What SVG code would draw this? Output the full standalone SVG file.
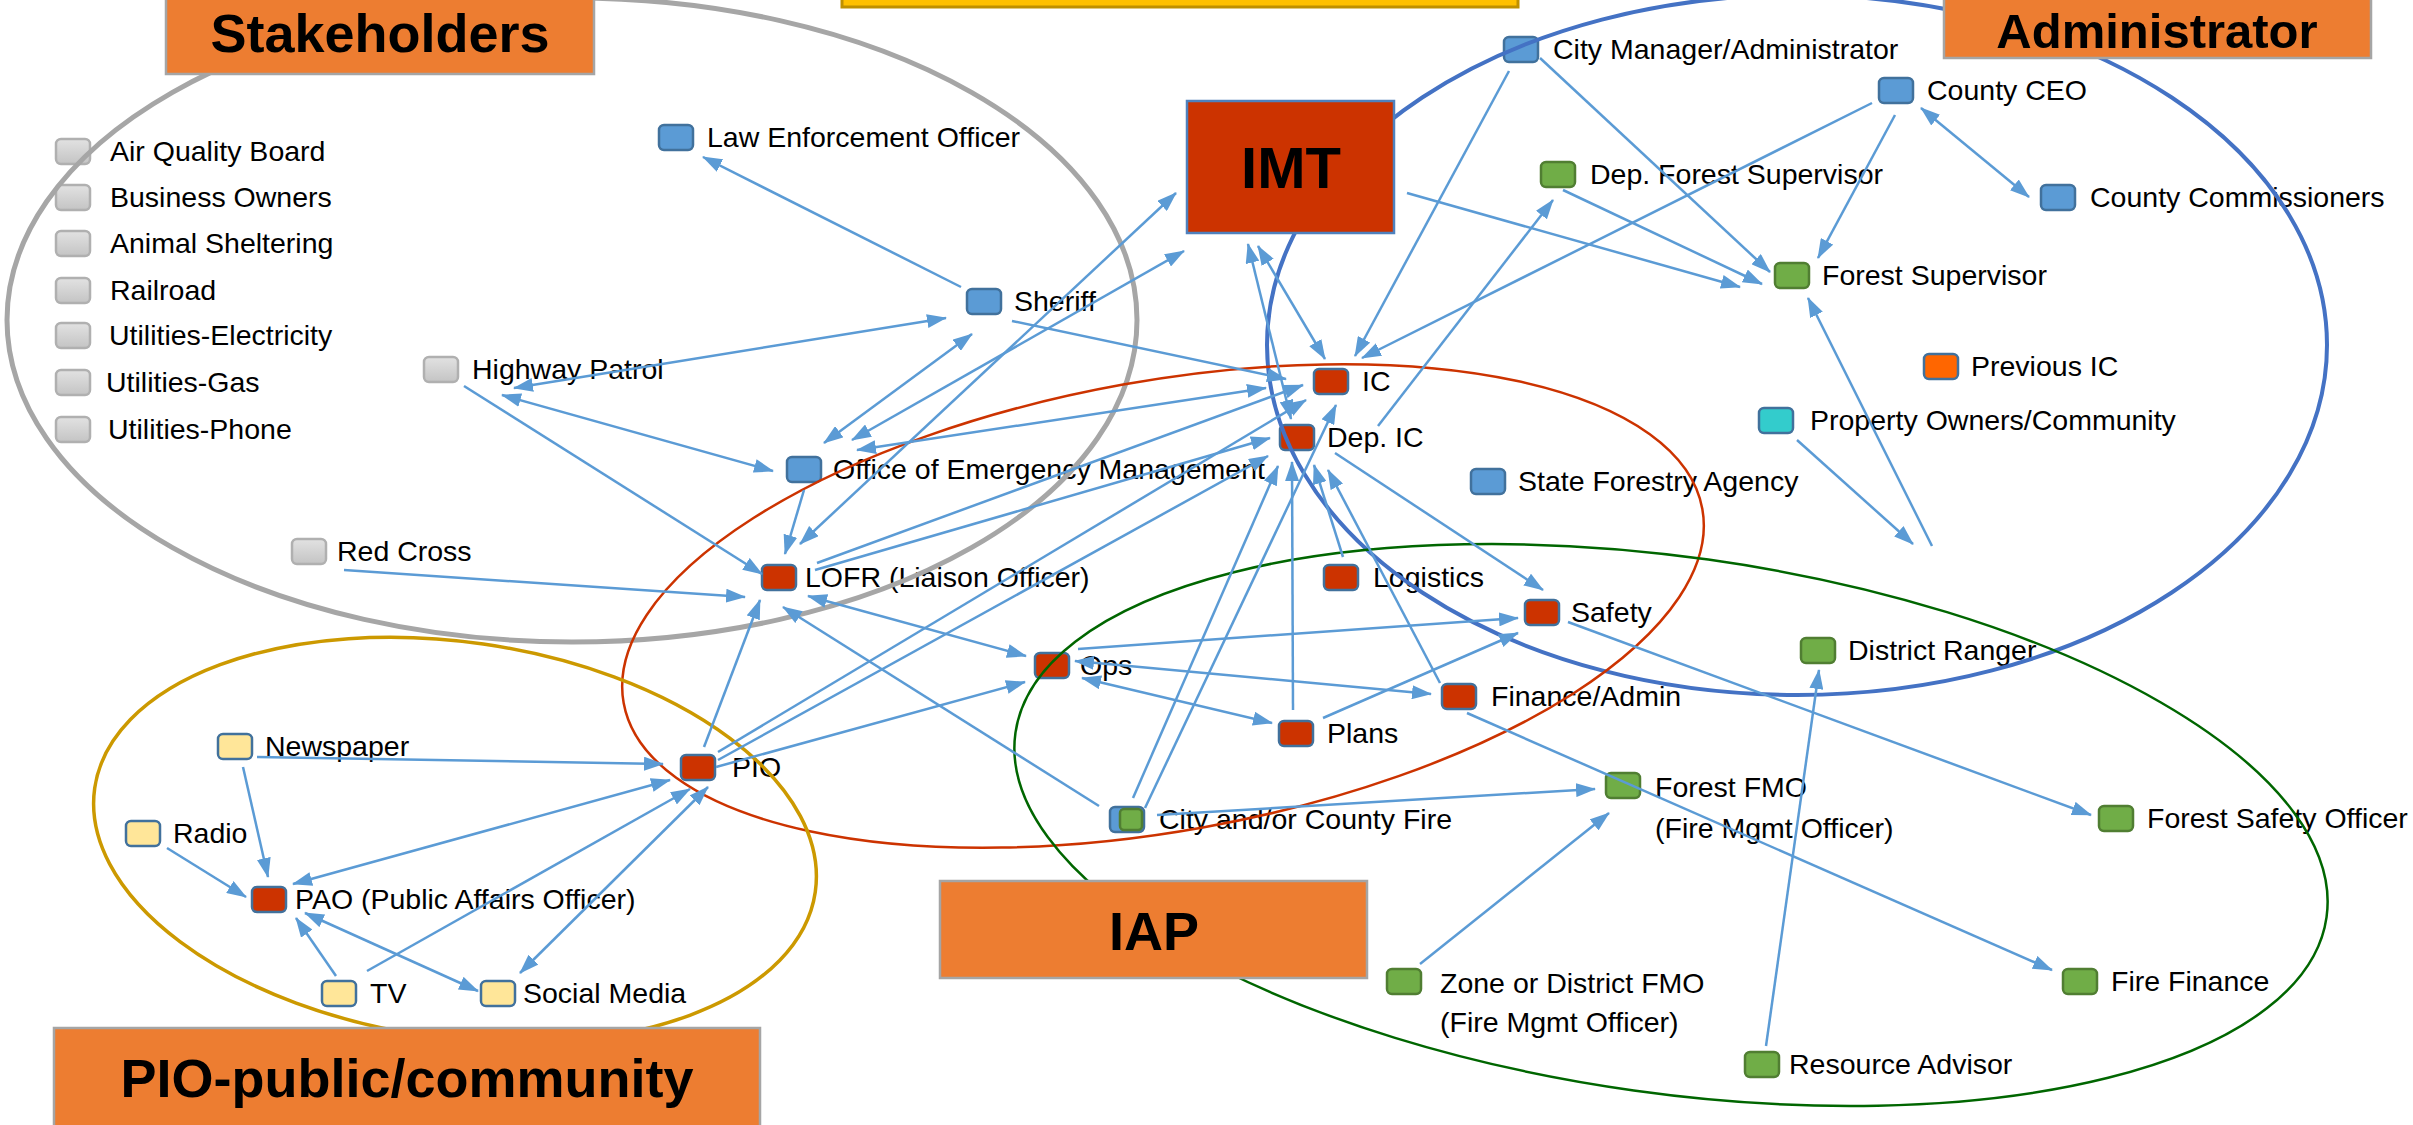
<svg xmlns="http://www.w3.org/2000/svg" width="2413" height="1125" viewBox="0 0 2413 1125">
<defs>
<linearGradient id="gg" x1="0" y1="0" x2="0" y2="1"><stop offset="0" stop-color="#E2E2E2"/><stop offset="1" stop-color="#C4C4C4"/></linearGradient>
<marker id="ah" viewBox="0 0 20 14" refX="19" refY="7" markerWidth="20" markerHeight="14" markerUnits="userSpaceOnUse" orient="auto-start-reverse"><path d="M0,0 L20,7 L0,14 z" fill="#5B9BD5"/></marker>
</defs>
<style>
text{font-family:"Liberation Sans",Arial,sans-serif;fill:#000}
.t{font-size:28.5px}
.big{font-size:54px;font-weight:bold;text-anchor:middle}
.n rect{stroke-width:2.5}
.gr{fill:url(#gg);stroke:#B0B0B0}
.bl{fill:#5B9BD5;stroke:#41719C}
.rd{fill:#CC3300;stroke:#41719C}
.yl{fill:#FFE699;stroke:#41719C}
.gn{fill:#70AD47;stroke:#507E32}
.og{fill:#FF6600;stroke:#41719C}
.tl{fill:#33CCCC;stroke:#41719C}
.lab{fill:#ED7D31;stroke:#A5A5A5;stroke-width:2.5}
.el{fill:none}
.c line{stroke:#5B9BD5;stroke-width:2.5;fill:none}
.e{marker-end:url(#ah)}
.b{marker-start:url(#ah);marker-end:url(#ah)}
</style>
<rect x="0" y="0" width="2413" height="1125" fill="#fff"/>
<rect x="842" y="-20" width="676" height="27" fill="#FFC000" stroke="#BF9000" stroke-width="3"/>

<g id="nodes">
<g id="air-quality" class="n"><rect class="gr" x="56" y="139" width="34" height="25" rx="5"/><text class="t" x="110" y="161">Air Quality Board</text></g>
<g id="business-owners" class="n"><rect class="gr" x="56" y="185" width="34" height="25" rx="5"/><text class="t" x="110" y="207">Business Owners</text></g>
<g id="animal-sheltering" class="n"><rect class="gr" x="56" y="231" width="34" height="25" rx="5"/><text class="t" x="110" y="253">Animal Sheltering</text></g>
<g id="railroad" class="n"><rect class="gr" x="56" y="278" width="34" height="25" rx="5"/><text class="t" x="110" y="300">Railroad</text></g>
<g id="utilities-electricity" class="n"><rect class="gr" x="56" y="323" width="34" height="25" rx="5"/><text class="t" x="109" y="345">Utilities-Electricity</text></g>
<g id="utilities-gas" class="n"><rect class="gr" x="56" y="370" width="34" height="25" rx="5"/><text class="t" x="106" y="392">Utilities-Gas</text></g>
<g id="utilities-phone" class="n"><rect class="gr" x="56" y="417" width="34" height="25" rx="5"/><text class="t" x="108" y="439">Utilities-Phone</text></g>
<g id="highway-patrol" class="n"><rect class="gr" x="424" y="357" width="34" height="25" rx="5"/><text class="t" x="472" y="379">Highway Patrol</text></g>
<g id="red-cross" class="n"><rect class="gr" x="292" y="539" width="34" height="25" rx="5"/><text class="t" x="337" y="561">Red Cross</text></g>

<g id="law-enforcement" class="n"><rect class="bl" x="659" y="125" width="34" height="25" rx="5"/><text class="t" x="707" y="147">Law Enforcement Officer</text></g>
<g id="sheriff" class="n"><rect class="bl" x="967" y="289" width="34" height="25" rx="5"/><text class="t" x="1014" y="311">Sheriff</text></g>
<g id="oem" class="n"><rect class="bl" x="787" y="457" width="34" height="25" rx="5"/><text class="t" x="833" y="479">Office of Emergency Management</text></g>
<g id="city-manager" class="n"><rect class="bl" x="1504" y="37" width="34" height="25" rx="5"/><text class="t" x="1553" y="59">City Manager/Administrator</text></g>
<g id="county-ceo" class="n"><rect class="bl" x="1879" y="78" width="34" height="25" rx="5"/><text class="t" x="1927" y="100">County CEO</text></g>
<g id="county-commissioners" class="n"><rect class="bl" x="2041" y="185" width="34" height="25" rx="5"/><text class="t" x="2090" y="207">County Commissioners</text></g>
<g id="state-forestry" class="n"><rect class="bl" x="1471" y="469" width="34" height="25" rx="5"/><text class="t" x="1518" y="491">State Forestry Agency</text></g>

<g id="lofr" class="n"><rect class="rd" x="762" y="565" width="34" height="25" rx="5"/><text class="t" x="805" y="587">LOFR (Liaison Officer)</text></g>
<g id="pao" class="n"><rect class="rd" x="252" y="887" width="34" height="25" rx="5"/><text class="t" x="295" y="909">PAO (Public Affairs Officer)</text></g>
<g id="pio" class="n"><rect class="rd" x="681" y="755" width="34" height="25" rx="5"/><text class="t" x="732" y="777">PIO</text></g>
<g id="ic" class="n"><rect class="rd" x="1314" y="369" width="34" height="25" rx="5"/><text class="t" x="1362" y="391">IC</text></g>
<g id="dep-ic" class="n"><rect class="rd" x="1280" y="425" width="34" height="25" rx="5"/><text class="t" x="1327" y="447">Dep. IC</text></g>
<g id="logistics" class="n"><rect class="rd" x="1324" y="565" width="34" height="25" rx="5"/><text class="t" x="1373" y="587">Logistics</text></g>
<g id="safety" class="n"><rect class="rd" x="1525" y="600" width="34" height="25" rx="5"/><text class="t" x="1571" y="622">Safety</text></g>
<g id="ops" class="n"><rect class="rd" x="1035" y="653" width="34" height="25" rx="5"/><text class="t" x="1080" y="675">Ops</text></g>
<g id="plans" class="n"><rect class="rd" x="1279" y="721" width="34" height="25" rx="5"/><text class="t" x="1327" y="743">Plans</text></g>
<g id="finance-admin" class="n"><rect class="rd" x="1442" y="684" width="34" height="25" rx="5"/><text class="t" x="1491" y="706">Finance/Admin</text></g>

<g id="newspaper" class="n"><rect class="yl" x="218" y="734" width="34" height="25" rx="5"/><text class="t" x="265" y="756">Newspaper</text></g>
<g id="radio" class="n"><rect class="yl" x="126" y="821" width="34" height="25" rx="5"/><text class="t" x="173" y="843">Radio</text></g>
<g id="tv" class="n"><rect class="yl" x="322" y="981" width="34" height="25" rx="5"/><text class="t" x="370" y="1003">TV</text></g>
<g id="social-media" class="n"><rect class="yl" x="481" y="981" width="34" height="25" rx="5"/><text class="t" x="523" y="1003">Social Media</text></g>

<g id="dep-forest-supervisor" class="n"><rect class="gn" x="1541" y="162" width="34" height="25" rx="5"/><text class="t" x="1590" y="184">Dep. Forest Supervisor</text></g>
<g id="forest-supervisor" class="n"><rect class="gn" x="1775" y="263" width="34" height="25" rx="5"/><text class="t" x="1822" y="285">Forest Supervisor</text></g>
<g id="forest-fmo" class="n"><rect class="gn" x="1606" y="773" width="34" height="25" rx="5"/><text class="t" x="1655" y="797">Forest FMO</text><text class="t" x="1655" y="838">(Fire Mgmt Officer)</text></g>
<g id="district-ranger" class="n"><rect class="gn" x="1801" y="638" width="34" height="25" rx="5"/><text class="t" x="1848" y="660">District Ranger</text></g>
<g id="forest-safety-officer" class="n"><rect class="gn" x="2099" y="806" width="34" height="25" rx="5"/><text class="t" x="2147" y="828">Forest Safety Officer</text></g>
<g id="fire-finance" class="n"><rect class="gn" x="2063" y="969" width="34" height="25" rx="5"/><text class="t" x="2111" y="991">Fire Finance</text></g>
<g id="resource-advisor" class="n"><rect class="gn" x="1745" y="1052" width="34" height="25" rx="5"/><text class="t" x="1789" y="1074">Resource Advisor</text></g>
<g id="zone-fmo" class="n"><rect class="gn" x="1387" y="969" width="34" height="25" rx="5"/><text class="t" x="1440" y="993">Zone or District FMO</text><text class="t" x="1440" y="1032">(Fire Mgmt Officer)</text></g>
<g id="previous-ic" class="n"><rect class="og" x="1924" y="354" width="34" height="25" rx="5"/><text class="t" x="1971" y="376">Previous IC</text></g>
<g id="property-owners" class="n"><rect class="tl" x="1759" y="408" width="34" height="25" rx="5"/><text class="t" x="1810" y="430">Property Owners/Community</text></g>
<g id="city-county-fire" class="n"><rect class="bl" x="1110" y="807" width="34" height="25" rx="5"/><rect class="gn" x="1120" y="809" width="22" height="21" rx="4" stroke-width="2"/><text class="t" x="1159" y="829">City and/or County Fire</text></g>
</g>

<g id="groups">
<ellipse class="el" cx="572" cy="320" rx="565" ry="322" stroke="#A6A6A6" stroke-width="5"/>
<ellipse class="el" cx="1797" cy="345" rx="530" ry="350" stroke="#4472C4" stroke-width="4"/>
<ellipse class="el" cx="1163" cy="606" rx="548" ry="225" transform="rotate(-10.2 1163 606)" stroke="#CC3300" stroke-width="2.5"/>
<ellipse class="el" cx="1671" cy="825" rx="662" ry="268" transform="rotate(8 1671 825)" stroke="#006600" stroke-width="2.5"/>
<ellipse class="el" cx="455" cy="840" rx="364" ry="198" transform="rotate(8.2 455 840)" stroke="#CC9900" stroke-width="3.5"/>
</g>

<g id="connectors" class="c">
<line class="e" x1="961" y1="287" x2="703" y2="157"/>
<line class="b" x1="514" y1="388" x2="946" y2="318"/>
<line class="b" x1="502" y1="395" x2="773" y2="471"/>
<line class="e" x1="464" y1="386" x2="762" y2="574"/>
<line class="e" x1="1012" y1="321" x2="1286" y2="379"/>
<line class="b" x1="824" y1="443" x2="972" y2="334"/>
<line class="b" x1="852" y1="440" x2="1184" y2="251"/>
<line class="b" x1="800" y1="544" x2="1176" y2="193"/>
<line class="b" x1="857" y1="450" x2="1266" y2="388"/>
<line class="e" x1="804" y1="490" x2="785" y2="554"/>
<line class="e" x1="344" y1="570" x2="745" y2="597"/>
<line class="e" x1="704" y1="747" x2="760" y2="600"/>
<line class="b" x1="808" y1="596" x2="1026" y2="656"/>
<line class="e" x1="1099" y1="806" x2="783" y2="607"/>
<line class="e" x1="817" y1="563" x2="1303" y2="385"/>
<line class="e" x1="815" y1="570" x2="1270" y2="438"/>
<line class="e" x1="718" y1="752" x2="1306" y2="400"/>
<line class="e" x1="718" y1="760" x2="1268" y2="456"/>
<line class="e" x1="716" y1="767" x2="1025" y2="682"/>
<line class="e" x1="257" y1="757" x2="663" y2="764"/>
<line class="e" x1="243" y1="767" x2="268" y2="877"/>
<line class="e" x1="167" y1="848" x2="246" y2="897"/>
<line class="b" x1="293" y1="884" x2="670" y2="780"/>
<line class="e" x1="336" y1="976" x2="296" y2="918"/>
<line class="e" x1="367" y1="971" x2="690" y2="789"/>
<line class="b" x1="520" y1="973" x2="708" y2="787"/>
<line class="b" x1="305" y1="913" x2="478" y2="991"/>
<line class="b" x1="1258" y1="246" x2="1325" y2="359"/>
<line class="b" x1="1248" y1="244" x2="1291" y2="419"/>
<line class="e" x1="1509" y1="71" x2="1355" y2="356"/>
<line class="e" x1="1540" y1="58" x2="1770" y2="272"/>
<line class="e" x1="1407" y1="193" x2="1740" y2="287"/>
<line class="e" x1="1563" y1="190" x2="1762" y2="284"/>
<line class="e" x1="1872" y1="103" x2="1362" y2="358"/>
<line class="e" x1="1895" y1="115" x2="1818" y2="258"/>
<line class="b" x1="1921" y1="108" x2="2029" y2="197"/>
<line class="e" x1="1378" y1="426" x2="1553" y2="200"/>
<line class="e" x1="1797" y1="440" x2="1913" y2="544"/>
<line class="e" x1="1932" y1="546" x2="1808" y2="298"/>
<line class="e" x1="1335" y1="453" x2="1543" y2="590"/>
<line class="e" x1="1078" y1="649" x2="1518" y2="618"/>
<line class="b" x1="1075" y1="661" x2="1431" y2="694"/>
<line class="b" x1="1082" y1="678" x2="1272" y2="723"/>
<line class="e" x1="1323" y1="718" x2="1518" y2="633"/>
<line class="e" x1="1293" y1="710" x2="1292" y2="462"/>
<line class="e" x1="1343" y1="557" x2="1314" y2="465"/>
<line class="e" x1="1440" y1="683" x2="1328" y2="470"/>
<line class="e" x1="1133" y1="798" x2="1278" y2="466"/>
<line class="e" x1="1145" y1="808" x2="1336" y2="405"/>
<line class="e" x1="1568" y1="622" x2="2091" y2="815"/>
<line class="e" x1="1467" y1="713" x2="2052" y2="970"/>
<line class="e" x1="1157" y1="815" x2="1595" y2="789"/>
<line class="e" x1="1420" y1="964" x2="1609" y2="813"/>
<line class="e" x1="1766" y1="1046" x2="1819" y2="670"/>
</g>

<g id="imt" class="n"><rect x="1187" y="101" width="207" height="132" fill="#CC3300" stroke="#4F81BD" stroke-width="2.5"/><text class="big" x="1291" y="188" style="font-size:58px">IMT</text></g>
<g id="label-stakeholders"><rect class="lab" x="166" y="-10" width="428" height="84"/><text class="big" x="380" y="52">Stakeholders</text></g>
<g id="label-administrator"><rect class="lab" x="1944" y="-20" width="427" height="78"/><text class="big" x="2157" y="48" style="font-size:49px">Administrator</text></g>
<g id="label-iap"><rect class="lab" x="940" y="881" width="427" height="97"/><text class="big" x="1154" y="950">IAP</text></g>
<g id="label-pio"><rect class="lab" x="54" y="1028" width="706" height="110"/><text class="big" x="407" y="1097">PIO-public/community</text></g>
</svg>
